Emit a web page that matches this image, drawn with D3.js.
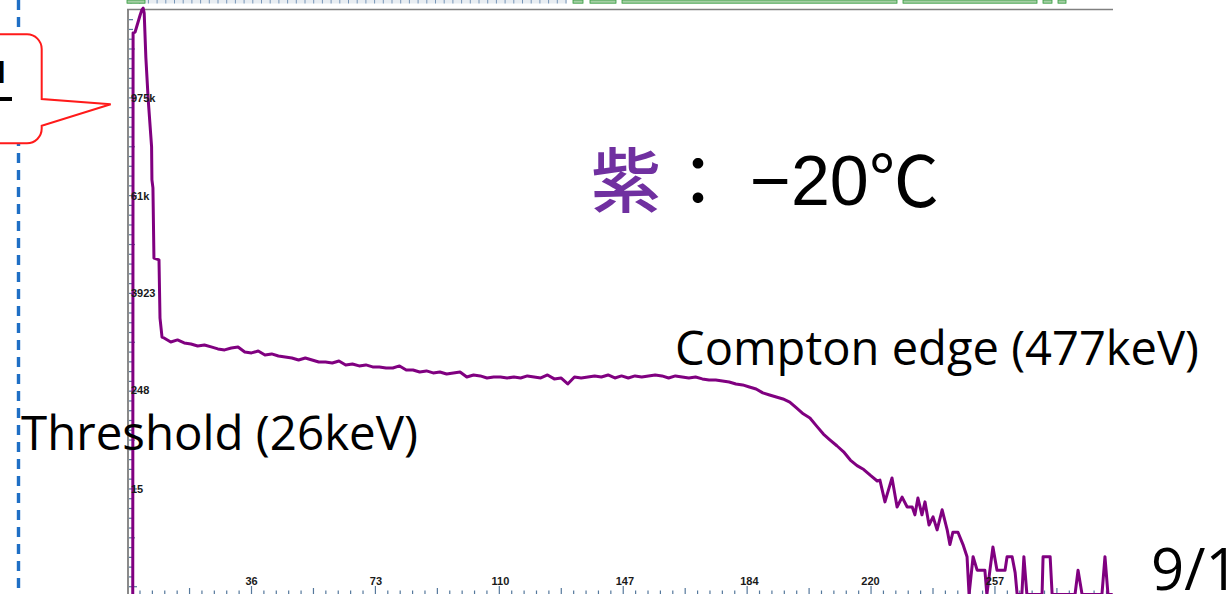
<!DOCTYPE html>
<html>
<head>
<meta charset="utf-8">
<script src="https://cdn.jsdelivr.net/npm/d3@7"></script>
<style>
  html, body { margin: 0; padding: 0; background: #fff; overflow: hidden; }
  svg { display: block; }
</style>
</head>
<body>
<svg id="chart" width="1230" height="594"></svg>
<script>
// ---- spectrum data: channel number and counts in that channel ----
const channels = [
  0.7, 0.8, 1.4, 2.9, 3.4, 3.8, 4.1, 4.6, 5.3, 6.3, 6.4, 6.7, 7.0, 8.5, 8.8, 9.4,
  10, 12, 14, 16, 18, 20, 22, 24, 26, 28, 30, 32, 34, 36, 38, 40, 42, 44, 46, 48,
  50, 52, 54, 56, 58, 60, 62, 64, 66, 68, 70, 72, 74, 76, 78, 80, 82, 84, 86, 88,
  90, 92, 94, 96, 98, 100, 102, 104, 106, 108, 110, 112, 114, 116, 118, 120, 122, 124, 126, 128,
  130, 132, 134, 136, 138, 140, 142, 144, 146, 148, 150, 152, 154, 156, 158, 160, 162, 164, 166, 168,
  170, 172, 174, 176, 178, 180, 182, 184, 186, 188, 190, 192, 194, 196, 198, 200, 202, 204, 206, 208,
  210, 212, 214, 216, 218, 220, 222,
  222.8, 224.3, 226.4, 227.9, 229.4, 230.9, 232.4, 233.2, 234.1, 235.3, 236.2, 237.4, 238.6, 239.8,
  241.3, 242.8, 243.6, 244.5, 246.0, 247.5, 248.7, 249.3, 250.5, 251.7, 254.0, 254.6, 255.5, 256.4,
  257.6, 260.0, 260.6, 262.1, 263.0, 263.6, 265.0, 265.6, 266.5, 271.0, 271.3, 273.4, 274.0, 280.8,
  281.7, 282.9, 288.8, 289.7, 290.6, 292.0
];
const counts = [
  0, 6.15e6, 6.3e6, 1.02e7, 1.18e7, 1.24e7, 1.08e7, 3.03e6, 9.2e5, 2.43e5, 95500, 76000, 10400, 9900, 1900, 1110,
  1082, 966, 1023, 940, 913, 863, 887, 839, 793, 771, 815, 839, 728, 708, 748, 668, 688, 650, 631, 614,
  580, 614, 580, 548, 548, 533, 564, 504, 518, 490, 504, 476, 476, 462, 462, 490, 437, 437, 413, 425,
  402, 413, 390, 402, 413, 358, 379, 369, 348, 358, 358, 348, 358, 348, 369, 358, 348, 379, 339, 348,
  294, 358, 348, 358, 369, 358, 379, 348, 369, 348, 369, 358, 369, 379, 369, 348, 369, 358, 348, 358,
  339, 329, 329, 320, 311, 294, 286, 270, 255, 228, 215, 203, 192, 176, 149, 126, 112, 89, 71, 60,
  51, 43, 34, 29, 26, 22, 18.8,
  19.3, 10.4, 20.5, 9.0, 11.9, 9.0, 9.0, 7.2, 11.6, 7.2, 10.4, 5.4, 6.8, 4.7,
  8.3, 4.7, 3.1, 4.4, 4.4, 3.1, 2.2, 0, 2.2, 1.5, 1.5, 0, 1.5, 2.9,
  1.5, 1.5, 2.2, 2.2, 1.4, 0, 0, 2.2, 0, 0, 2.2, 2.2, 0, 0,
  1.5, 0, 0, 2.2, 0, 0
];

// axis tick values and their printed labels
const xTickValues = [36, 73, 110, 147, 184, 220, 257];
const yTickValues = [15, 248, 3923, 61000, 975000];
const yTickLabels = ["15", "248", "3923", "61k", "975k"];

// annotation texts
const thresholdText = "Threshold (26keV)";
const edgeText = "Compton edge (477keV)";
const colourWord = "紫";
const tempText = "−20";
const degreeSign = "℃";
const dateText = "9/1";

// ---- layout ----
const W = 1230, H = 594;
const frame = { left: 128, top: 9, right: 1113, bottom: 594 };

const x = d3.scaleLinear().domain([0, 292]).range([130.4, 1112.7]);
const y = d3.scaleLog().domain([1, 1.21e7]).range([584.5, 9]);
const yPos = v => (v > 0 ? y(v) : frame.bottom + 0.5);

const svg = d3.select("#chart");

// overview strip along the very top
const strip = svg.append("g");
strip.append("rect")
  .attr("x", 127).attr("y", 0).attr("width", 440).attr("height", 3.5)
  .attr("fill", "#e8edf2");
strip.selectAll("line.st").data(d3.range(131, 566, 8.7)).join("line")
  .attr("x1", d => d).attr("x2", d => d).attr("y1", 0).attr("y2", 3.5)
  .attr("stroke", "#7896b8").attr("stroke-width", 1);
const stripBlocks = [[127, 145], [573, 583], [590, 616], [622, 897], [903, 1037], [1043, 1052], [1058, 1066]];
strip.selectAll("rect.blk").data(stripBlocks).join("rect")
  .attr("x", d => d[0]).attr("y", 0).attr("width", d => d[1] - d[0]).attr("height", 3.2)
  .attr("fill", "#a4cfa4").attr("stroke", "#2f9a3a").attr("stroke-width", 0.8);

// dashed blue guide on the left
svg.append("line")
  .attr("x1", 18.5).attr("x2", 18.5).attr("y1", 0).attr("y2", H)
  .attr("stroke", "#1f6fc5").attr("stroke-width", 3.4)
  .attr("stroke-dasharray", "10,7");

// red speech-bubble callout pointing at the peak
const callout = svg.append("g");
callout.append("path")
  .attr("d", "M-20,34.3 H27 A14.7,14.7 0 0 1 41.7,49 V99 L110.7,104.3 L41.7,125.7 V128.6 A14.7,14.7 0 0 1 27,143.3 H-20 Z")
  .attr("fill", "#fff").attr("stroke", "#ff1a1a").attr("stroke-width", 2);
callout.append("text")
  .attr("x", -3).attr("y", 83)
  .attr("font-family", "'Noto Sans', sans-serif").attr("font-weight", 700)
  .attr("font-size", 29).attr("fill", "#000")
  .text("l");
callout.append("line")
  .attr("x1", 0).attr("x2", 12).attr("y1", 99).attr("y2", 99)
  .attr("stroke", "#000").attr("stroke-width", 4);

// frame lines
svg.append("line")
  .attr("x1", frame.left).attr("x2", frame.left).attr("y1", frame.top).attr("y2", frame.bottom)
  .attr("stroke", "#8a8a8a").attr("stroke-width", 2);
svg.append("line")
  .attr("x1", frame.left - 1).attr("x2", frame.right).attr("y1", frame.top + 0.5).attr("y2", frame.top + 0.5)
  .attr("stroke", "#808080").attr("stroke-width", 1.5);

// y-axis ticks: ten subdivisions per labelled step (log spacing)
const y0log = Math.log10(yTickValues[0]);
const yLogStep = (Math.log10(yTickValues[yTickValues.length - 1]) - y0log) / ((yTickValues.length - 1) * 10);
const yMinor = d3.range(-10, 50).map(k => ({ k, py: y(Math.pow(10, y0log + k * yLogStep)) }))
  .filter(d => d.py > frame.top + 3 && d.py < frame.bottom);
svg.append("g").selectAll("line").data(yMinor).join("line")
  .attr("x1", frame.left + 1).attr("x2", d => frame.left + 1 + (d.k % 10 === 0 ? 8 : d.k % 5 === 0 ? 6 : 4))
  .attr("y1", d => d.py).attr("y2", d => d.py)
  .attr("stroke", "#55789c").attr("stroke-width", 1.2);

// x-axis ticks along the bottom edge
const xStep = (xTickValues[xTickValues.length - 1] - xTickValues[0]) / ((xTickValues.length - 1) * 10);
const xMinor = d3.range(-10, 75).map(k => ({ k, px: x(xTickValues[0] + k * xStep) }))
  .filter(d => d.px > frame.left + 6 && d.px < frame.right);
svg.append("g").selectAll("line").data(xMinor).join("line")
  .attr("x1", d => d.px).attr("x2", d => d.px)
  .attr("y1", d => frame.bottom - (d.k % 10 === 0 ? 8 : d.k % 5 === 0 ? 6 : 3.5)).attr("y2", frame.bottom)
  .attr("stroke", "#55789c").attr("stroke-width", 1.2);

// spectrum curve
svg.append("defs").append("clipPath").attr("id", "plotClip")
  .append("rect").attr("x", frame.left + 1).attr("y", 6)
  .attr("width", frame.right - frame.left).attr("height", frame.bottom - 6);

const pts = channels.map((c, i) => ({ ch: c, v: counts[i] }));
const line = d3.line().x(d => x(d.ch)).y(d => yPos(d.v));
svg.append("path")
  .attr("clip-path", "url(#plotClip)")
  .attr("d", line(pts))
  .attr("fill", "none").attr("stroke", "#800080")
  .attr("stroke-width", 3).attr("stroke-linejoin", "round");

// axis labels (drawn inside the plot)
svg.append("g").selectAll("text").data(yTickValues).join("text")
  .attr("x", frame.left + 3).attr("y", d => y(d))
  .attr("dominant-baseline", "central")
  .attr("font-family", "'Liberation Sans', Arial, sans-serif").attr("font-weight", 700)
  .attr("font-size", 11).attr("fill", "#1a1a1a")
  .text((d, i) => yTickLabels[i]);

svg.append("g").selectAll("text").data(xTickValues).join("text")
  .attr("x", d => x(d)).attr("y", 585)
  .attr("text-anchor", "middle")
  .attr("font-family", "'Liberation Sans', Arial, sans-serif").attr("font-weight", 700)
  .attr("font-size", 11).attr("fill", "#1a1a1a")
  .text(d => d);

// annotations
const big = svg.append("g");
big.append("text")
  .attr("x", 591).attr("y", 207)
  .attr("font-family", "'Noto Sans CJK JP', sans-serif").attr("font-weight", 500)
  .attr("font-size", 70).attr("fill", "#7030a0")
  .text(colourWord);
big.append("text")
  .attr("x", 663).attr("y", 207)
  .attr("font-family", "'Noto Sans CJK JP', sans-serif")
  .attr("font-size", 70).attr("fill", "#000")
  .text("：");
big.append("text")
  .attr("x", 750).attr("y", 205)
  .attr("font-family", "'Liberation Sans', Arial, sans-serif")
  .attr("font-size", 70).attr("fill", "#000")
  .text(tempText);
big.append("text")
  .attr("x", 869).attr("y", 207)
  .attr("font-family", "'Noto Sans CJK JP', sans-serif")
  .attr("font-size", 70).attr("fill", "#000")
  .text(degreeSign);

big.append("text")
  .attr("x", 675).attr("y", 365)
  .attr("font-family", "'Open Sans', sans-serif")
  .attr("font-size", 47).attr("fill", "#000")
  .attr("textLength", 524).attr("lengthAdjust", "spacingAndGlyphs")
  .text(edgeText);
big.append("text")
  .attr("x", 21).attr("y", 450)
  .attr("font-family", "'Open Sans', sans-serif")
  .attr("font-size", 47).attr("fill", "#000")
  .attr("textLength", 397).attr("lengthAdjust", "spacingAndGlyphs")
  .text(thresholdText);
big.append("text")
  .attr("x", 1151).attr("y", 590)
  .attr("font-family", "'Open Sans', sans-serif")
  .attr("font-size", 58).attr("fill", "#000")
  .text(dateText);
</script>
</body>
</html>
